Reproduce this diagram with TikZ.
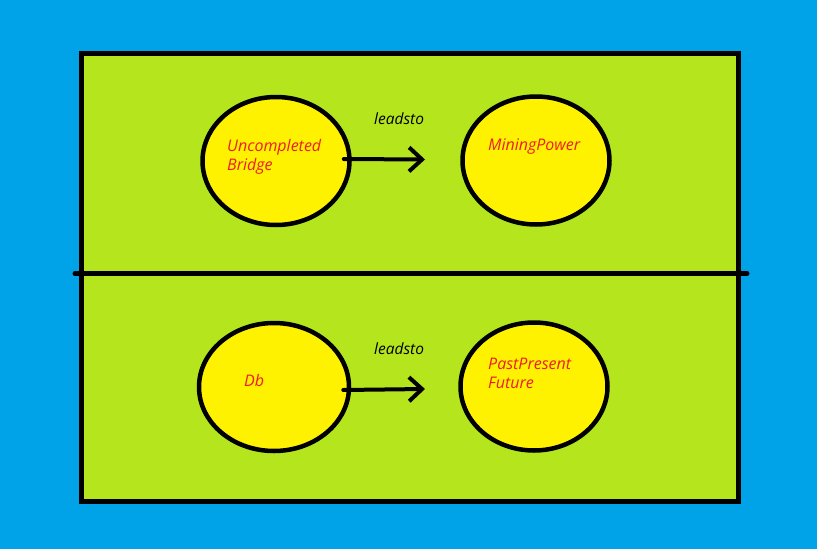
\documentclass[tikz,border=0pt]{standalone}
\usepackage{fontspec}
\setmainfont{Open Sans}
\usetikzlibrary{shapes.geometric,arrows.meta}
\definecolor{paintblue}{RGB}{0,162,232}
\definecolor{paintlime}{RGB}{181,230,29}
\definecolor{paintyellow}{RGB}{255,242,0}
\definecolor{paintred}{RGB}{237,28,36}
\tikzstyle{bubble} = [ellipse, draw=black, fill=paintyellow, line width=4.5pt, minimum width=147pt, minimum height=128pt, inner sep=0pt]
\tikzset{concept/.style={anchor=north west, inner sep=0pt, align=left, text=paintred, font=\fontsize{16}{19}\selectfont\itshape},
    relname/.style={anchor=north west, inner sep=0pt, text=black, font=\fontsize{15.5}{18}\selectfont\itshape},
    leads/.style={line width=4pt, line cap=round, -{Straight Barb[length=13pt,width=24pt]}}}

\begin{document}
\begin{tikzpicture}[x=1pt,y=-1pt]
    % Background and frame
    \fill[paintblue] (0,0) rectangle (817,549);
    \useasboundingbox (0,0) rectangle (817,549);
    \draw[line width=5pt, fill=paintlime] (81.5,53.5) rectangle (738.5,501.5);
    \draw[line width=5pt, line cap=round] (75,273.5) -- (747,273.5);
    %
    % Upper half
    \node[bubble] (bridge) at (276,161) {};
    \node[bubble] (power) at (536,160.5) {};
    \node[concept] (bridgetext) at (227,139) {Uncompleted\\Bridge};
    \node[concept] (powertext) at (488,139) {MiningPower};
    \coordinate (uptip) at (425,159.5);
    \draw[leads] ([xshift=-8pt,yshift=2pt]bridge.east) -- (uptip);
    \node[relname] (uprel) at (374,113) {leadsto};
    %
    % Lower half
    \node[bubble, minimum width=150pt] (db) at (274,387) {};
    \node[bubble] (future) at (534,386.5) {};
    \node[concept] (dbtext) at (244,374) {Db};
    \node[concept] (futuretext) at (488,358) {PastPresent\\Future};
    \coordinate (downtip) at (425,389);
    \draw[leads] ([xshift=-8pt,yshift=-3pt]db.east) -- (downtip);
    \node[relname] (downrel) at (374,343) {leadsto};
\end{tikzpicture}
\end{document}
